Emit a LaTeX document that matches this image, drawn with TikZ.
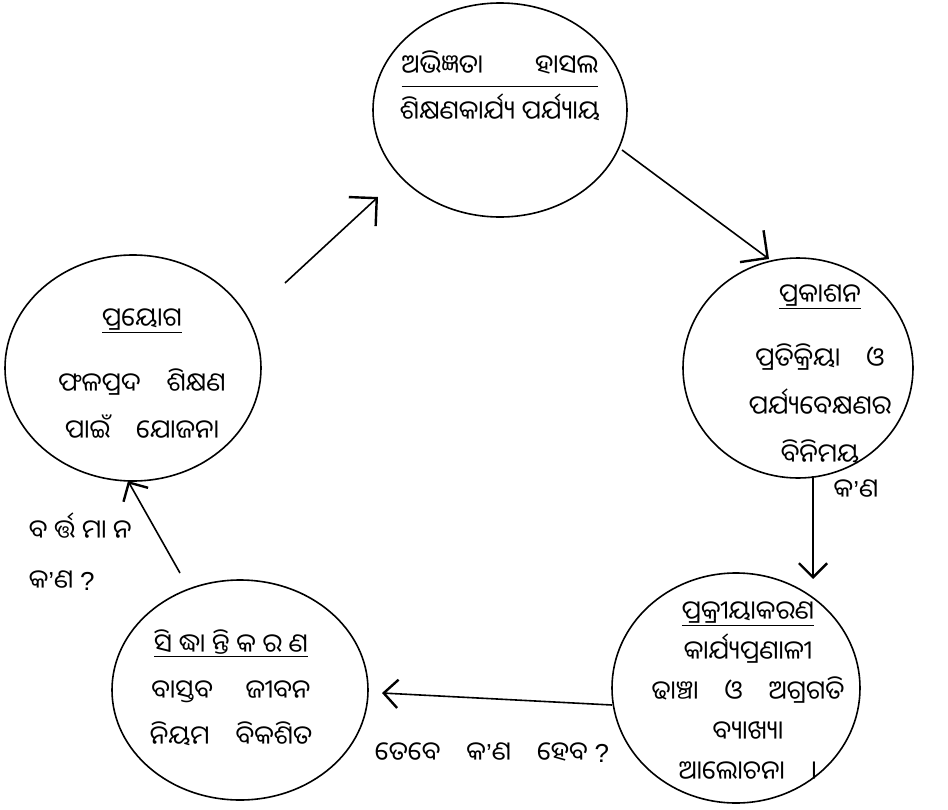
\documentclass[tikz,border=0pt]{standalone}
\usepackage{fontspec}
\newfontfamily\odia[Script=Oriya]{Noto Sans Oriya UI}
\newfontfamily\latin{Liberation Sans}
\usetikzlibrary{shapes.geometric,arrows.meta}
\newcommand{\qm}{{\latin ?}}
\newcommand{\apos}{{\latin ’}}

\begin{document}
\begin{tikzpicture}[x=1pt,y=-1pt,line width=1.6pt,
    lbl/.style={font=\odia\fontsize{26}{46}\selectfont,align=center,inner sep=0pt},
    arr/.style={-{Straight Barb[angle=90:20pt,line width=2.4pt]}},
    bigarr/.style={-{Straight Barb[angle=90:28pt,line width=2.4pt]}}]

  \useasboundingbox (0,0) rectangle (948,809);

  \begin{scope}[every node/.style={ellipse,draw,inner sep=0pt}]
    \node[minimum width=254pt,minimum height=214pt] (abhigyata)  at (500,110) {};
    \node[minimum width=230pt,minimum height=220pt] (prakashana) at (798,368) {};
    \node[minimum width=248pt,minimum height=230pt] (prakriya)   at (736,688) {};
    \node[minimum width=256pt,minimum height=220pt] (siddhanta)  at (240,690) {};
    \node[minimum width=256pt,minimum height=226pt] (prayoga)    at (133,368) {};
  \end{scope}

  \begin{scope}[every node/.style={lbl}]
    \node (abhigyatatxt) at (500,86)
      {\underline{ଅଭିଜ୍ଞତା\qquad ହାସଲ\rule[-9pt]{0pt}{0pt}}\\ଶିକ୍ଷଣକାର୍ଯ୍ୟ ପର୍ଯ୍ୟାୟ};
    \node[font=\odia\fontsize{26}{48}\selectfont] (prakashanatxt) at (820,375)
      {\underline{ପ୍ରକାଶନ}\\[16pt]ପ୍ରତିକ୍ରିୟା\quad ଓ\\ପର୍ଯ୍ୟବେକ୍ଷଣର\\ବିନିମୟ};
    \node[font=\odia\fontsize{26}{40}\selectfont] (prakriyatxt) at (748,692)
      {\underline{ପ୍ରକ୍ରୀୟାକରଣ}\\କାର୍ଯ୍ୟପ୍ରଣାଳୀ\\ଢାଞ୍ଚା\quad ଓ\quad ଅଗ୍ରଗତି\\ବ୍ୟାଖ୍ୟା\\ଆଲୋଚନା\quad ।};
    \node (siddhantatxt) at (231,688)
      {\underline{ସି ଦ୍ଧା ନ୍ତି କ ର ଣ}\\ବାସ୍ତବ\quad\ ଜୀବନ\\ନିୟମ\quad ବିକଶିତ};
    \node[font=\odia\fontsize{26}{47}\selectfont] (prayogatxt) at (142,375)
      {\underline{ପ୍ରୟୋଗ}\\[18pt]ଫଳପ୍ରଦ\quad ଶିକ୍ଷଣ\\ପାଇଁ\quad ଯୋଜନା};

    \node (whattxt) at (856,490) {କ\apos ଣ};
    \node[font=\odia\fontsize{26}{50}\selectfont,align=left,anchor=west] (nowtxt) at (28,552)
      {ବ ର୍ତ୍ତ ମା ନ\\କ\apos ଣ \qm};
    \node (thentxt) at (492,753) {ତେବେ\quad କ\apos ଣ\quad ହେବ \qm};
  \end{scope}

  \coordinate (a1s) at (285,283);
  \coordinate (a1e) at (378,197);
  \coordinate (a2s) at (622,150);
  \coordinate (a2e) at (769,259);
  \coordinate (a3s) at (813,476);
  \coordinate (a3e) at (813,579);
  \coordinate (a4s) at (612,705);
  \coordinate (a4e) at (382,693);
  \coordinate (a5s) at (180,573);
  \coordinate (a5e) at (128,481);

  \draw[bigarr] (a1s) -- (a1e);
  \draw[bigarr] (a2s) -- (a2e);
  \draw[arr] (a3s) -- (a3e);
  \draw[arr] (a4s) -- (a4e);
  \draw[arr] (a5s) -- (a5e);

\end{tikzpicture}
\end{document}
